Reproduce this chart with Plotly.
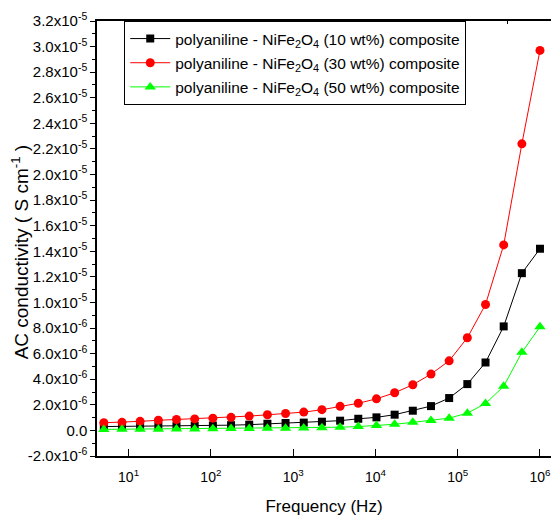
import plotly.graph_objects as go

# Measurement frequencies (Hz)
freq = [5, 8.32, 13.8, 23.0, 38.2, 63.6, 105.8, 175.9, 292.6, 486.6,
        809, 1346, 2238, 3722, 6190, 10295, 17121, 28474, 47355, 78755,
        130975, 217822, 362254, 602457, 1000000]

# AC conductivity in units of 1e-6 S/cm
sigma_10 = [0.30, 0.31, 0.32, 0.33, 0.34, 0.36, 0.38, 0.41, 0.45, 0.52,
            0.58, 0.61, 0.68, 0.76, 0.91, 1.02, 1.23, 1.54, 1.90, 2.53,
            3.62, 5.31, 8.13, 12.29, 14.2]
sigma_30 = [0.60, 0.63, 0.71, 0.79, 0.85, 0.90, 0.96, 1.02, 1.12, 1.22,
            1.32, 1.43, 1.62, 1.88, 2.12, 2.47, 2.94, 3.57, 4.40, 5.44,
            7.24, 9.84, 14.5, 22.4, 29.7]
sigma_50 = [0.08, 0.09, 0.10, 0.10, 0.11, 0.12, 0.13, 0.14, 0.15, 0.16,
            0.17, 0.19, 0.21, 0.25, 0.30, 0.38, 0.48, 0.63, 0.78, 0.96,
            1.35, 2.10, 3.45, 6.10, 8.10]

series_names = [
    "polyaniline - NiFe<sub>2</sub>O<sub>4</sub> (10 wt%) composite",
    "polyaniline - NiFe<sub>2</sub>O<sub>4</sub> (30 wt%) composite",
    "polyaniline - NiFe<sub>2</sub>O<sub>4</sub> (50 wt%) composite",
]
series_colors = ["#000000", "#FF0000", "#00FF00"]
series_symbols = ["square", "circle", "triangle-up"]
series_sizes = [8, 9, 10]

# y tick labels
y_tick_vals = [-2e-6 + 2e-6 * k for k in range(18)]
y_tick_text = ["-2.0x10<sup>-6</sup>", "0.0",
               "2.0x10<sup>-6</sup>", "4.0x10<sup>-6</sup>", "6.0x10<sup>-6</sup>",
               "8.0x10<sup>-6</sup>", "1.0x10<sup>-5</sup>", "1.2x10<sup>-5</sup>",
               "1.4x10<sup>-5</sup>", "1.6x10<sup>-5</sup>", "1.8x10<sup>-5</sup>",
               "2.0x10<sup>-5</sup>", "2.2x10<sup>-5</sup>", "2.4x10<sup>-5</sup>",
               "2.6x10<sup>-5</sup>", "2.8x10<sup>-5</sup>", "3.0x10<sup>-5</sup>",
               "3.2x10<sup>-5</sup>"]

x_tick_vals = [10, 100, 1000, 10000, 100000, 1000000]
x_tick_text = ["10<sup>1</sup>", "10<sup>2</sup>", "10<sup>3</sup>",
               "10<sup>4</sup>", "10<sup>5</sup>", "10<sup>6</sup>"]

FONT = "Liberation Sans, Arial, sans-serif"

fig = go.Figure()
for k, (vals, name, col, sym, sz) in enumerate(zip(
        [sigma_10, sigma_30, sigma_50], series_names,
        series_colors, series_symbols, series_sizes)):
    fig.add_trace(go.Scatter(
        x=freq, y=[v * 1e-6 for v in vals], name=name, mode="lines+markers",
        legendgroup=f"g{k}",
        line=dict(color=col, width=1),
        marker=dict(symbol=sym, size=sz, color=col, line=dict(width=0)),
    ))

# unlabeled top axis with evenly spaced ticks
fig.add_trace(go.Scatter(x=[0], y=[0], xaxis="x2", showlegend=False,
                         mode="markers", marker=dict(opacity=0), hoverinfo="skip"))

fig.update_layout(
    width=551, height=516,
    margin=dict(l=97, r=0, t=21, b=60),
    paper_bgcolor="white", plot_bgcolor="white",
    font=dict(family=FONT, color="black", size=14),
    showlegend=True,
    legend=dict(x=0.06, y=1.0, xanchor="left", yanchor="top",
                bgcolor="white", bordercolor="black", borderwidth=1,
                font=dict(size=15.5, family=FONT), tracegroupgap=1,
                traceorder="grouped", itemwidth=40),
    xaxis=dict(type="log", range=[0.616, 6.134], tickvals=x_tick_vals,
               ticktext=x_tick_text, ticks="inside", ticklen=7, tickwidth=1,
               tickcolor="black", showline=True, linecolor="black", linewidth=1.5,
               showgrid=False, zeroline=False, mirror=False,
               ticklabelstandoff=7, ticklabeloverflow="allow",
               title=dict(text="Frequency (Hz)", font=dict(size=17), standoff=20),
               tickfont=dict(size=14)),
    xaxis2=dict(overlaying="x", side="top", range=[0, 9.945], dtick=1,
                ticks="inside", ticklen=3, tickcolor="black",
                showticklabels=False, showline=True, linecolor="black",
                linewidth=1.5, showgrid=False, zeroline=False),
    yaxis=dict(range=[-2e-6, 3.2e-5], tickvals=y_tick_vals, ticktext=y_tick_text,
               ticks="outside", ticklen=5, tickwidth=1, tickcolor="black",
               minor=dict(dtick=1e-6, tick0=0, ticks="outside", ticklen=3,
                          tickcolor="black"),
               showline=True, linecolor="black", linewidth=1.5, showgrid=False,
               zeroline=False, mirror=False,
               tickfont=dict(size=15)),
    annotations=[dict(text="AC conductivity ( S cm<sup>-1</sup> )",
                      textangle=-90, xref="paper", yref="paper",
                      x=-0.17, y=0.47, xanchor="center", yanchor="middle",
                      showarrow=False, font=dict(size=19, family=FONT))],
)

fig.write_html("out.html")
